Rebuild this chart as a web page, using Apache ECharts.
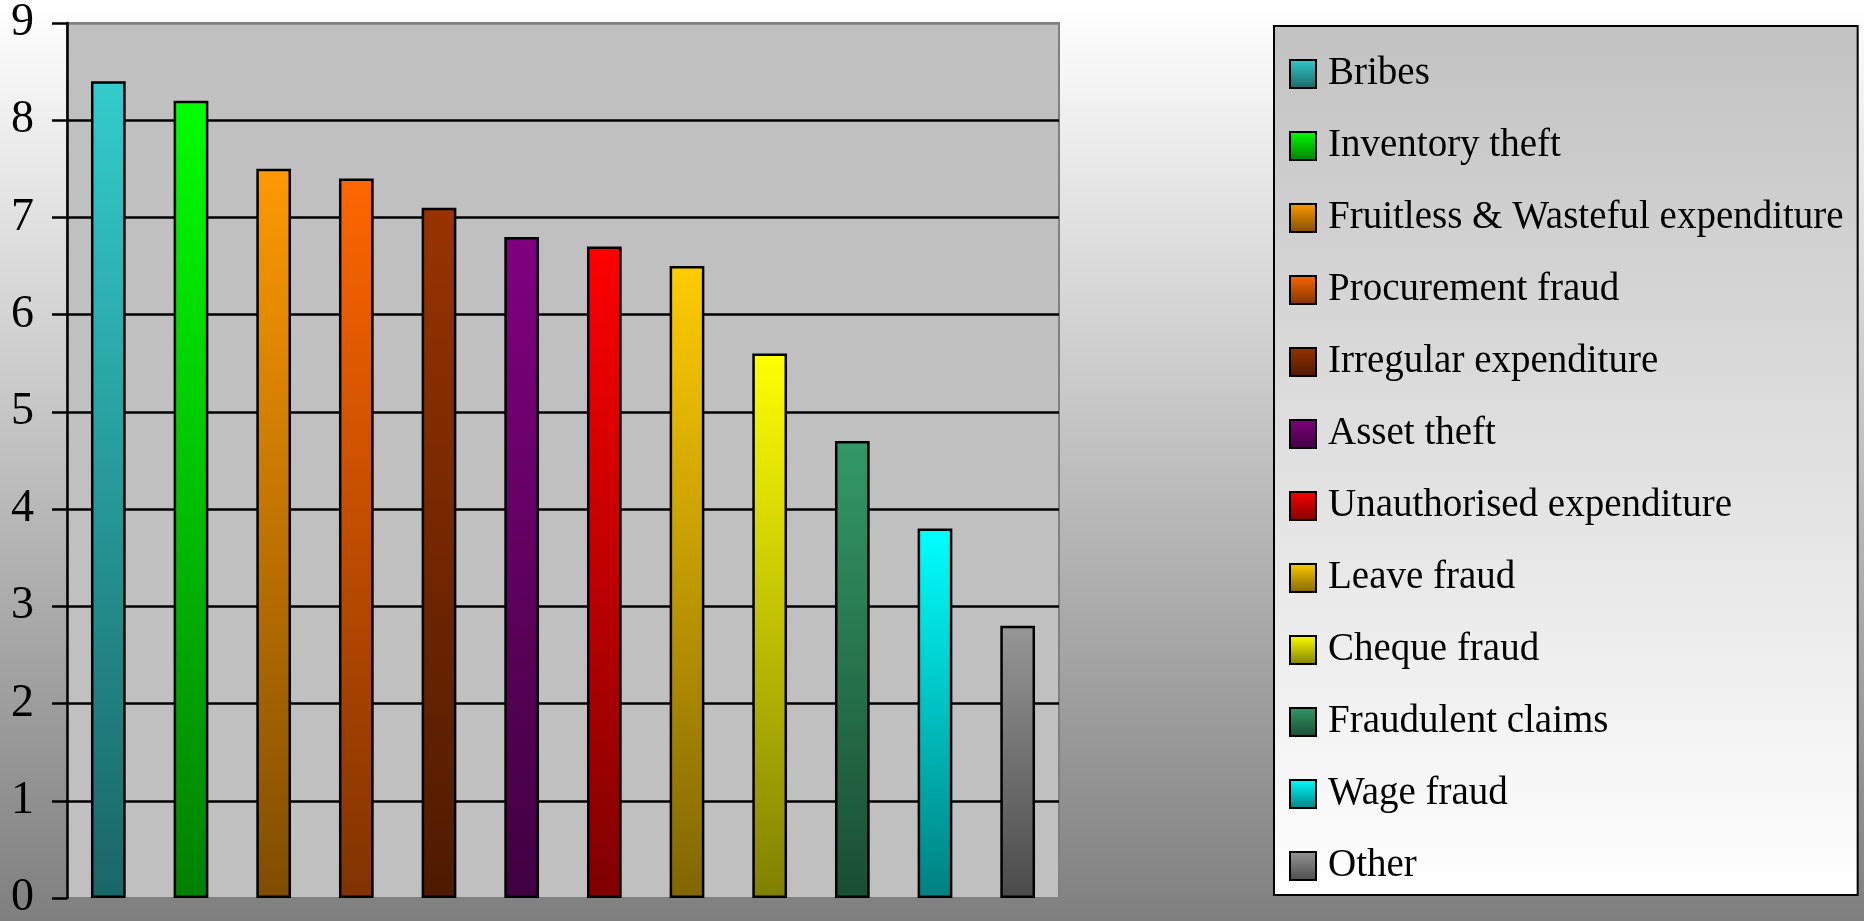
<!DOCTYPE html>
<html>
<head>
<meta charset="utf-8">
<script src="https://cdn.jsdelivr.net/npm/echarts@6/dist/echarts.min.js"></script>
<style>
html,body{margin:0;padding:0;width:100%;height:100%;overflow:hidden;}
#chart{width:1864px;height:921px;}
</style>
</head>
<body>
<div id="chart"></div>
<script>
const categories = ['Bribes','Inventory theft','Fruitless & Wasteful expenditure','Procurement fraud','Irregular expenditure','Asset theft','Unauthorised expenditure','Leave fraud','Cheque fraud','Fraudulent claims','Wage fraud','Other'];
const values = [8.4, 8.2, 7.5, 7.4, 7.1, 6.8, 6.7, 6.5, 5.6, 4.7, 3.8, 2.8];
const topColors = ['#33cccc','#00ff00','#ff9900','#ff6600','#993300','#800080','#ff0000','#ffcc00','#ffff00','#339966','#00ffff','#969696'];
const bottomColors = ['#1a6666','#008000','#804d00','#803300','#4d1a00','#400040','#800000','#806600','#808000','#1a4d33','#008080','#4b4b4b'];
const yTicks = [0,1,2,3,4,5,6,7,8,9];

const chart = echarts.init(document.getElementById('chart'));
const series = categories.map((name, i) => ({
  name: name,
  type: 'bar',
  stack: 'all',
  barWidth: '42%',
  data: categories.map((c, j) => j === i ? values[i] : '-'),
  itemStyle: {
    color: {type:'linear', x:0, y:0, x2:0, y2:1, colorStops:[{offset:0,color:topColors[i]},{offset:1,color:bottomColors[i]}]},
    borderColor: '#000',
    borderWidth: 2.5
  },
  emphasis: {disabled: true}
}));

const splitColors = yTicks.map((v, k) => (k === 0 || k === yTicks.length - 1) ? '#808080' : '#000');

chart.setOption({
  animation: false,
  backgroundColor: {type:'linear', x:0, y:0, x2:0, y2:1, colorStops:[{offset:0,color:'#ffffff'},{offset:1,color:'#7f7f7f'}]},
  grid: {
    left: 67, top: 21, width: 992, height: 881,
    show: true, backgroundColor: '#c0c0c0', borderColor: '#808080', borderWidth: 2
  },
  xAxis: {
    type: 'category', data: categories,
    axisLine: {show: false}, axisTick: {show: false}, axisLabel: {show: false}, splitLine: {show: false}
  },
  yAxis: {
    type: 'value', min: yTicks[0], max: yTicks[yTicks.length-1], interval: 1,
    axisLine: {show: true, lineStyle: {color: '#000', width: 2.5}},
    axisTick: {show: true, length: 15, lineStyle: {color: '#000', width: 2.5}},
    splitLine: {show: true, lineStyle: {color: splitColors, width: 2.5}},
    axisLabel: {margin: 33, color: '#000', fontFamily: 'Liberation Serif', fontSize: 46}
  },
  legend: {
    orient: 'vertical',
    left: 1274, top: 26,
    padding: [25, 14, 6, 15],
    itemWidth: 26, itemHeight: 28,
    itemGap: 26,
    icon: 'rect',
    selectedMode: false,
    backgroundColor: {type:'linear', x:0, y:0, x2:0, y2:1, colorStops:[{offset:0,color:'#c2c2c2'},{offset:1,color:'#ffffff'}]},
    borderColor: '#000', borderWidth: 2,
    textStyle: {fontFamily: 'Liberation Serif', fontSize: 39, color: '#000', lineHeight: 46, padding: [0,0,0,7]},
    data: categories
  },
  series: series
});
</script>
</body>
</html>
